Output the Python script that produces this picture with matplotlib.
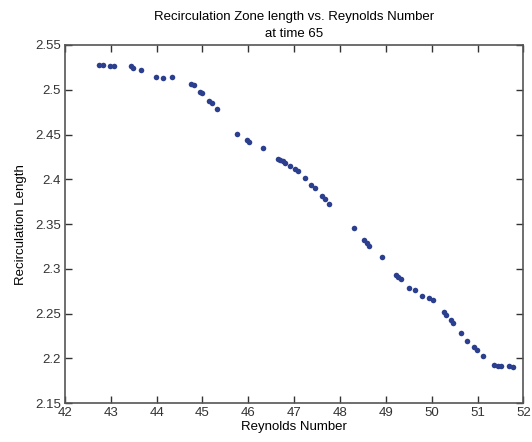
import numpy as np
import matplotlib
matplotlib.use("Agg")
import matplotlib.pyplot as plt

plt.rcParams['font.family'] = ['Liberation Sans', 'DejaVu Sans']

# Reynolds number vs recirculation length
reynolds = [42.75, 42.82, 42.98, 43.08, 43.44, 43.49, 43.66, 43.98, 44.14, 44.34,
            44.75, 44.81, 44.94, 44.99, 45.14, 45.20, 45.32, 45.76, 45.96, 46.02,
            46.32, 46.65, 46.70, 46.76, 46.81, 46.91, 47.02, 47.09, 47.23, 47.37,
            47.45, 47.60, 47.67, 47.76, 48.30, 48.52, 48.58, 48.64, 48.91, 49.22,
            49.27, 49.32, 49.51, 49.63, 49.79, 49.95, 50.02, 50.27, 50.32, 50.42,
            50.46, 50.64, 50.76, 50.93, 50.98, 51.12, 51.36, 51.45, 51.52, 51.69,
            51.78]
recirc_length = [2.528, 2.528, 2.527, 2.527, 2.526, 2.524, 2.522, 2.514, 2.513, 2.514,
                 2.506, 2.505, 2.498, 2.496, 2.487, 2.485, 2.478, 2.451, 2.444, 2.442,
                 2.435, 2.423, 2.422, 2.420, 2.418, 2.415, 2.411, 2.409, 2.402, 2.394,
                 2.390, 2.381, 2.378, 2.373, 2.346, 2.332, 2.329, 2.326, 2.313, 2.293,
                 2.291, 2.289, 2.279, 2.277, 2.270, 2.267, 2.265, 2.252, 2.249, 2.243,
                 2.240, 2.228, 2.220, 2.213, 2.209, 2.203, 2.193, 2.192, 2.192, 2.192,
                 2.190]

xticks = list(range(42, 53))
yticks = [2.15, 2.2, 2.25, 2.3, 2.35, 2.4, 2.45, 2.5, 2.55]
ytick_labels = ['2.15', '2.2', '2.25', '2.3', '2.35', '2.4', '2.45', '2.5', '2.55']

fig = plt.figure(figsize=(5.32, 4.42), dpi=100)
ax = fig.add_axes([0.122, 0.0876, 0.862, 0.8106])

ax.plot(reynolds, recirc_length, linestyle='none', marker='o', markersize=4,
        color='#2b3f8e', markeredgewidth=0)

ax.set_xlim(42, 52)
ax.set_ylim(2.15, 2.55)
ax.set_xticks(xticks)
ax.set_yticks(yticks)
ax.set_yticklabels(ytick_labels)
ax.tick_params(direction='in', top=True, right=True, length=5, width=1,
               labelsize=9.5, colors='#333333', pad=3)
for s in ax.spines.values():
    s.set_color('#555555')
    s.set_linewidth(1.2)

ax.set_xlabel('Reynolds Number', fontsize=9.5, labelpad=1)
ax.set_ylabel('Recirculation Length', fontsize=9.5, labelpad=6)
ax.set_title('Recirculation Zone length vs. Reynolds Number\nat time 65',
             fontsize=9.5, linespacing=1.5, pad=6)

fig.savefig('out.png', dpi=100)
